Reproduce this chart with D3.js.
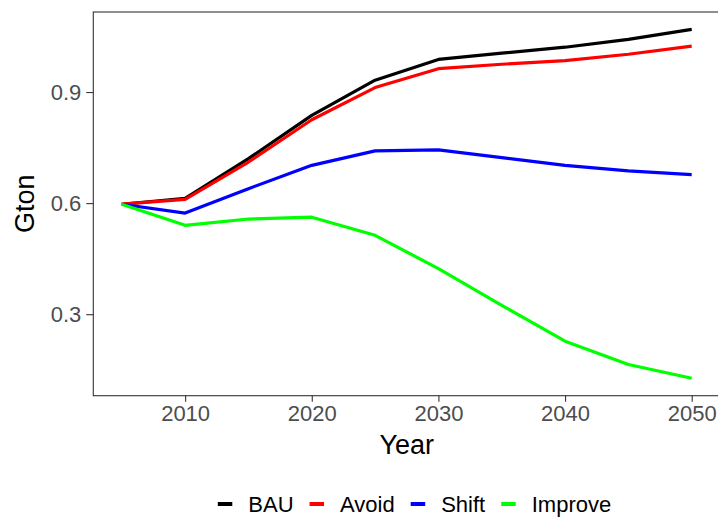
<!DOCTYPE html>
<html>
<head>
<meta charset="utf-8">
<script src="https://cdn.jsdelivr.net/npm/d3@7"></script>
<style>
  body { margin: 0; background: #fff; }
  svg { display: block; font-family: "Liberation Sans", Arial, sans-serif; }
</style>
</head>
<body>
<div id="chart"></div>
<script>
// data
var years = [2005, 2010, 2015, 2020, 2025, 2030, 2035, 2040, 2045, 2050];
var bau     = [0.597, 0.613, 0.720, 0.837, 0.932, 0.988, 1.005, 1.021, 1.042, 1.069];
var avoid   = [0.597, 0.610, 0.711, 0.825, 0.912, 0.963, 0.975, 0.985, 1.002, 1.024];
var shift   = [0.597, 0.573, 0.639, 0.702, 0.741, 0.744, 0.723, 0.702, 0.687, 0.677];
var improve = [0.597, 0.540, 0.557, 0.562, 0.513, 0.423, 0.324, 0.227, 0.164, 0.127];
var seriesNames = ["BAU", "Avoid", "Shift", "Improve"];
var seriesColors = ["#000000", "#ff0000", "#0000ff", "#00ff00"];
var xTicks = [2010, 2020, 2030, 2040, 2050];
var yTicks = [0.3, 0.6, 0.9];

var width = 718,
    height = 517,
    panel = {left: 93.3, top: 12, right: 720.2, bottom: 395.7};

var series = [bau, avoid, shift, improve].map(function(vals, i) {
  return {name: seriesNames[i], color: seriesColors[i],
          values: vals.map(function(v, j) { return {year: years[j], value: v}; })};
});

// ggplot style 5% expansion
function expand(ext) {
  var pad = (ext[1] - ext[0]) * 0.05;
  return [ext[0] - pad, ext[1] + pad];
}
var allValues = bau.concat(avoid, shift, improve);

var x = d3.scaleLinear()
  .domain(expand(d3.extent(years)))
  .range([panel.left, panel.right]);

var y = d3.scaleLinear()
  .domain(expand(d3.extent(allValues)))
  .range([panel.bottom, panel.top]);

var svg = d3.select("#chart").append("svg")
  .attr("width", width)
  .attr("height", height);

// lines
var line = d3.line()
  .x(function(d) { return x(d.year); })
  .y(function(d) { return y(d.value); });

svg.append("g")
  .selectAll("path")
  .data(series)
  .enter()
  .append("path")
  .attr("d", function(d) { return line(d.values); })
  .style("fill", "none")
  .style("stroke", function(d) { return d.color; })
  .style("stroke-width", 3.2)
  .style("stroke-linejoin", "round");

// panel border
svg.append("rect")
  .attr("x", panel.left)
  .attr("y", panel.top)
  .attr("width", panel.right - panel.left)
  .attr("height", panel.bottom - panel.top)
  .style("fill", "none")
  .style("stroke", "#333")
  .style("stroke-width", 1.1);

// axes
var xAxis = svg.append("g")
  .attr("transform", "translate(0," + panel.bottom + ")")
  .call(d3.axisBottom(x).tickValues(xTicks).tickFormat(d3.format("d")).tickSize(6).tickPadding(4));

var yAxis = svg.append("g")
  .attr("transform", "translate(" + panel.left + ",0)")
  .call(d3.axisLeft(y).tickValues(yTicks).tickFormat(d3.format(".1f")).tickSize(7).tickPadding(5));

[xAxis, yAxis].forEach(function(g) {
  g.select(".domain").remove();
  g.selectAll(".tick line").style("stroke", "#333").style("stroke-width", 1.1);
  g.selectAll(".tick text")
    .style("fill", "#4d4d4d")
    .style("font-size", "22px")
    .style("font-family", "'Liberation Sans', Arial, sans-serif");
});

// axis titles
svg.append("text")
  .attr("x", (panel.left + panel.right) / 2)
  .attr("y", 454)
  .attr("text-anchor", "middle")
  .style("font-size", "27px")
  .text("Year");

svg.append("text")
  .attr("transform", "translate(34," + (panel.top + panel.bottom) / 2 + ") rotate(-90)")
  .attr("text-anchor", "middle")
  .style("font-size", "27px")
  .text("Gton");

// legend (kept just inside the bottom edge)
var legend = svg.append("g");
var keyW = 14.5, keyGap = 16, itemGap = 16;
var items = legend.selectAll("g")
  .data(series)
  .enter()
  .append("g");

items.append("line")
  .attr("x1", 0)
  .attr("x2", keyW)
  .attr("y1", 504)
  .attr("y2", 504)
  .style("stroke", function(d) { return d.color; })
  .style("stroke-width", 4);

items.append("text")
  .attr("x", keyW + keyGap)
  .attr("y", 512)
  .style("font-size", "22px")
  .text(function(d) { return d.name; });

var offset = 0;
items.each(function() {
  var w = d3.select(this).select("text").node().getComputedTextLength();
  d3.select(this).attr("transform", "translate(" + offset + ",0)");
  offset += keyW + keyGap + w + itemGap;
});
var total = offset - itemGap;
legend.attr("transform", "translate(" + (414.5 - total / 2) + ",0)");
</script>
</body>
</html>
